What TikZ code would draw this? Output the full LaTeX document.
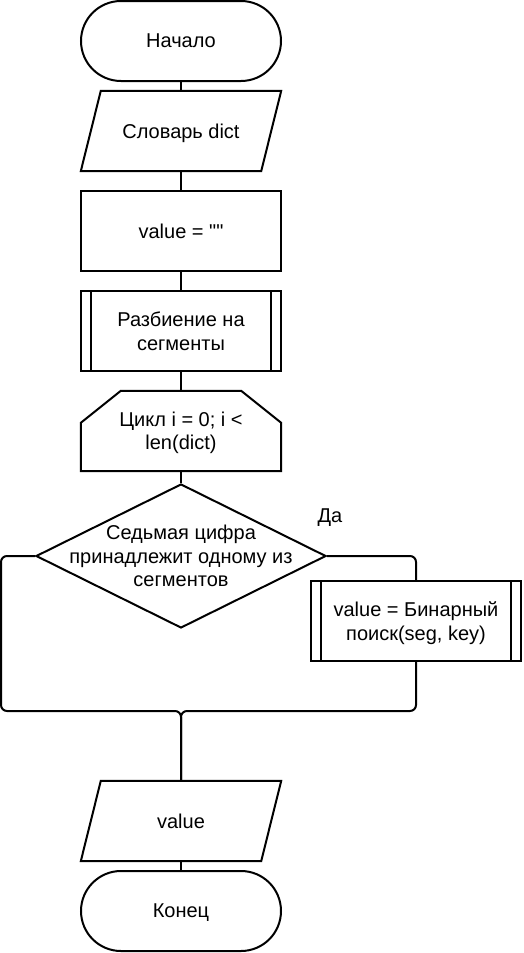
\documentclass[tikz,border=0pt]{standalone}
\usepackage{fontspec}
\setmainfont{Liberation Sans}
\newfontfamily\plainfont{Liberation Sans}
\usetikzlibrary{shapes.geometric}

\begin{document}
\begin{tikzpicture}[x=1pt,y=-1pt,
  every node/.style={font=\fontsize{20}{23.4}\selectfont, align=center,
    text depth=0pt},
  outline/.style={line width=2pt},
  box/.style={rectangle, inner sep=2pt, minimum width=200pt, minimum height=80pt},
  terminal/.style={box, draw, outline, rounded corners=40pt},
  process/.style={box, draw, outline},
  subproc/.style={box, draw, outline,
    path picture={\draw[line width=1.5pt]
      ([xshift=10pt]path picture bounding box.north west) --
      ([xshift=10pt]path picture bounding box.south west)
      ([xshift=-10pt]path picture bounding box.north east) --
      ([xshift=-10pt]path picture bounding box.south east);}},
  decision/.style={draw, outline, diamond, inner sep=0pt,
    minimum width=290pt, minimum height=144pt},
  link/.style={line width=2pt, rounded corners=6pt},
]
\useasboundingbox (0,0) rectangle (523,953);

\node[terminal] at (181,41)  (start)  {Начало};
\node[box]      at (181,131) (dict)   {Словарь dict};
\node[process]  at (181,231) (init)   {value = {\plainfont ""}};
\node[subproc]  at (181,331) (split)  {Разбиение на\\сегменты};
\node[box]      at (181,431) (loop)   {Цикл i = 0; i <\\len(dict)};
\node[decision] at (181,556) (cond)
  [label={[align=center]center:Седьмая цифра\\принадлежит одному из\\сегментов}] {};
\node           at (330,516) (yes)    {Да};
\node[subproc, minimum width=210pt] at (416,621) (bsearch) {value = Бинарный\\поиск(seg, key)};
\node[box]      at (181,821) (out)    {value};
\node[terminal] at (181,911) (stop)   {Конец};
\coordinate (join) at (181,711);

% input/output parallelograms
\foreach \n in {dict,out}
  \draw[outline] ([xshift=20pt]\n.north west) -- (\n.north east)
    -- ([xshift=-20pt]\n.south east) -- (\n.south west) -- cycle;
% loop limit
\draw[outline] (loop.south west) -- ([yshift=-32pt]loop.north west)
  -- ([xshift=40pt]loop.north west) -- ([xshift=-40pt]loop.north east)
  -- ([yshift=-32pt]loop.north east) -- (loop.south east) -- cycle;

\draw[link] (start.south) -- (dict.north);
\draw[link] (dict.south)  -- (init.north);
\draw[link] (init.south)  -- (split.north);
\draw[link] (split.south) -- (loop.north);
\draw[link] (loop.south)  -- (cond.north);
\draw[link] (cond.east) -| (bsearch.north);
\draw[link] (bsearch.south) |- (join) -- (out.north);
\draw[link] (cond.west) -- ++(-34,0) |- (join) -- (out.north);
\draw[link] (out.south)   -- (stop.north);
\end{tikzpicture}
\end{document}
